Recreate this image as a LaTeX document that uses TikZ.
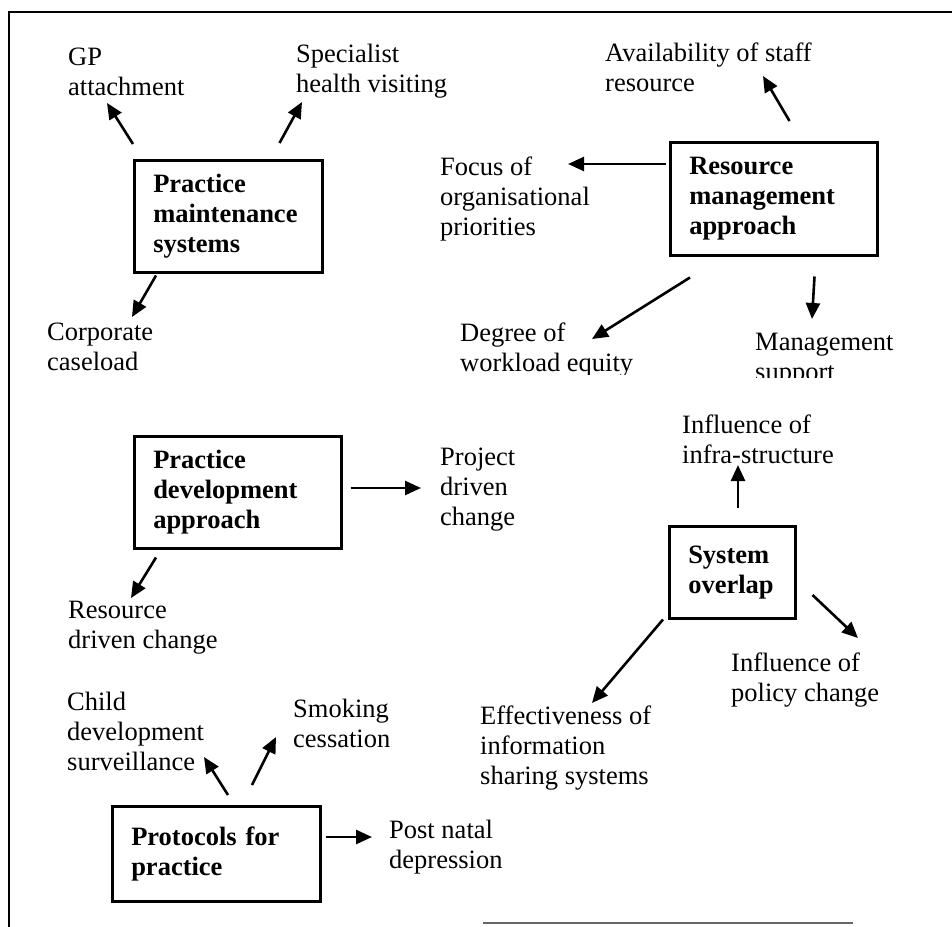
\documentclass[tikz,border=0pt]{standalone}
\usepackage{fontspec}
\setmainfont{Liberation Serif}
\usetikzlibrary{arrows.meta}
% left-aligned stack of lines whose baseline is the first line
\newcommand\textlines[1]{\begin{tabular}[t]{@{}l@{}}#1\end{tabular}}
\tikzset{
  txt/.style={anchor=base west, inner sep=0pt, font=\fontsize{26.5}{30}\selectfont},
  boxnode/.style={draw, line width=2.5pt, anchor=north west, inner xsep=19pt,
    inner ysep=0pt, align=left, font=\fontsize{26.5}{30}\selectfont\bfseries},
  arr/.style={line width=2.6pt, -{Triangle[length=16pt,width=14pt]}},
  frame/.style={line width=2.6pt}
}
\begin{document}
\begin{tikzpicture}[x=1pt,y=-1pt]
\useasboundingbox (0,0) rectangle (952,926);
% outer frame
\draw[frame] (9,940) -- (9,12) -- (960,12);
\draw[line width=1.6pt, black!60] (483,923) -- (853,923);

% central boxes
\node[boxnode, text width=150pt, minimum height=112pt] (pms) at (133,159)
  {Practice\\maintenance\\systems};
\node[boxnode, text width=169pt, minimum height=113pt] (rma) at (669,141)
  {Resource\\management\\approach};
\node[boxnode, text width=169pt, minimum height=112pt] (pda) at (133,435)
  {Practice\\development\\approach};
\node[boxnode, text width=88pt, minimum height=92pt] (so) at (668,525)
  {System\\overlap};
\node[boxnode, text width=170pt, minimum height=95pt] (pfp) at (111,805)
  {\hbox{Protocols for}\\practice};

% outcome labels
\node[txt] (gp) at (68,65) {\textlines{GP\\attachment}};
\node[txt] (spec) at (296,62) {\textlines{Specialist\\health visiting}};
\node[txt] (corp) at (47,340) {\textlines{Corporate\\caseload}};
\node[txt] (avail) at (605,61) {\textlines{Availability of staff\\resource}};
\node[txt] (focus) at (440,175) {\textlines{Focus of\\organisational\\priorities}};
\begin{scope}
  \clip (440,300) rectangle (670,374);
  \node[txt] (degree) at (460,341) {\textlines{Degree of\\workload equity}};
\end{scope}
\begin{scope}
  \clip (740,320) rectangle (910,377);
  \node[txt] (mgmt) at (755,350) {\textlines{Management\\support}};
\end{scope}
\node[txt] (project) at (440,465) {\textlines{Project\\driven\\change}};
\node[txt] (resdriven) at (68,618) {\textlines{Resource\\driven change}};
\node[txt] (infra) at (682,433) {\textlines{Influence of\\infra-structure}};
\node[txt] (effect) at (480,724) {\textlines{Effectiveness of\\information\\sharing systems}};
\node[txt] (policy) at (731,671) {\textlines{Influence of\\policy change}};
\node[txt] (child) at (67,710) {\textlines{Child\\development\\surveillance}};
\node[txt] (smoking) at (293,717) {\textlines{Smoking\\cessation}};
\node[txt] (postnatal) at (389,838) {\textlines{Post natal\\depression}};

% connectors
\draw[arr] ([shift={(0,-15)}]pms.north west) -- ([shift={(39,38)}]gp.base west);
\draw[arr] ([shift={(-44,-16)}]pms.north east) -- ([shift={(6,40)}]spec.base west);
\draw[arr] ([shift={(23,2)}]pms.south west) -- ([shift={(85,-23)}]corp.base west);

\draw[arr] ([shift={(-89,-20)}]rma.north east) -- ([shift={(158,15)}]avail.base west);
\draw[arr] ([shift={(-3,23)}]rma.north west) -- ([shift={(128,-11)}]focus.base west);
\draw[arr] ([shift={(21,21)}]rma.south west) -- ([shift={(132,-2)}]degree.base west);
\draw[arr] ([shift={(-64,20)}]rma.south east) -- ([shift={(57,-31)}]mgmt.base west);

\draw[arr] ([shift={(8,53)}]pda.north east) -- ([shift={(-19,23)}]project.base west);
\draw[arr] ([shift={(23,8)}]pda.south west) -- ([shift={(63,-20)}]resdriven.base west);

\draw[arr] ([shift={(70,-17)}]so.north west) -- ([shift={(56,32)}]infra.base west);
\draw[arr] ([shift={(-5,0)}]so.south west) -- ([shift={(112,-21)}]effect.base west);
\draw[arr] ([shift={(16,70)}]so.north east) -- ([shift={(127,-33)}]policy.base west);

\draw[arr] ([shift={(117,-10)}]pfp.north west) -- ([shift={(137,47)}]child.base west);
\draw[arr] ([shift={(141,-20)}]pfp.north west) -- ([shift={(-17,20)}]smoking.base west);
\draw[arr] ([shift={(4,32)}]pfp.north east) -- ([shift={(-17,-1)}]postnatal.base west);
\end{tikzpicture}
\end{document}
